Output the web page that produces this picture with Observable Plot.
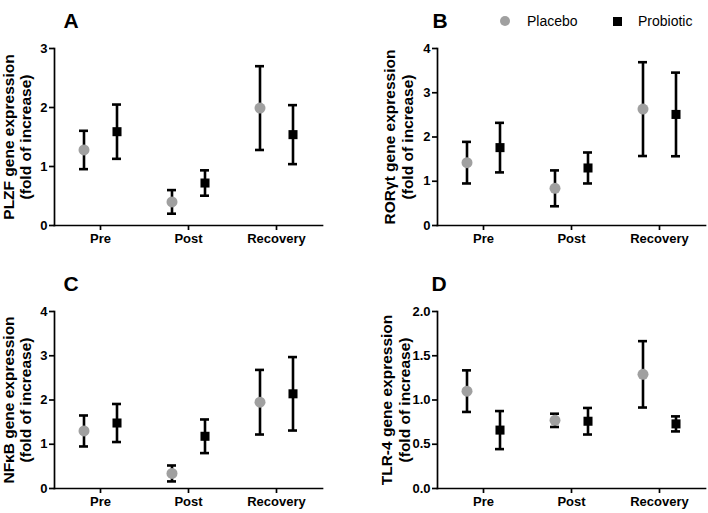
<!DOCTYPE html>
<html><head><meta charset="utf-8">
<script src="https://cdn.jsdelivr.net/npm/d3@7"></script>
<script src="https://cdn.jsdelivr.net/npm/@observablehq/plot@0.6"></script>
<style>
body{margin:0;background:#fff;}
#wrap{position:relative;width:708px;height:513px;font-family:"Liberation Sans",Arial,sans-serif;overflow:hidden;}
.panel{position:absolute;}
.leg{position:absolute;font-size:14px;color:#000;line-height:14px;}
</style></head><body><div id="wrap"></div>
<script>
// categories
const times = ["Pre", "Post", "Recovery"];
const groups = ["Placebo", "Probiotic"];
const panelLetters = ["A", "B", "C", "D"];
const yTitles = [
  "PLZF gene expression\n(fold of increase)",
  "RORγt gene expression\n(fold of increase)",
  "NFκB gene expression\n(fold of increase)",
  "TLR-4 gene expression\n(fold of increase)"
];
const yMax = [3, 4, 4, 2];
const yTicks = [[0, 1, 2, 3], [0, 1, 2, 3, 4], [0, 1, 2, 3, 4], [0, 0.5, 1, 1.5, 2]];

// A: PLZF
const plzfPlaceboMean = [1.28, 0.40, 1.99];
const plzfPlaceboErr = [0.325, 0.20, 0.71];
const plzfProbioticMean = [1.59, 0.72, 1.54];
const plzfProbioticErr = [0.46, 0.215, 0.50];
// B: RORyt
const rorPlaceboMean = [1.42, 0.84, 2.63];
const rorPlaceboErr = [0.47, 0.405, 1.06];
const rorProbioticMean = [1.76, 1.30, 2.51];
const rorProbioticErr = [0.56, 0.35, 0.945];
// C: NFkB
const nfkbPlaceboMean = [1.30, 0.34, 1.95];
const nfkbPlaceboErr = [0.35, 0.18, 0.73];
const nfkbProbioticMean = [1.48, 1.18, 2.14];
const nfkbProbioticErr = [0.43, 0.38, 0.83];
// D: TLR-4
const tlrPlaceboMean = [1.10, 0.77, 1.29];
const tlrPlaceboErr = [0.235, 0.075, 0.375];
const tlrProbioticMean = [0.66, 0.76, 0.73];
const tlrProbioticErr = [0.215, 0.15, 0.085];

const series = [
  [plzfPlaceboMean, plzfPlaceboErr, plzfProbioticMean, plzfProbioticErr],
  [rorPlaceboMean, rorPlaceboErr, rorProbioticMean, rorProbioticErr],
  [nfkbPlaceboMean, nfkbPlaceboErr, nfkbProbioticMean, nfkbProbioticErr],
  [tlrPlaceboMean, tlrPlaceboErr, tlrProbioticMean, tlrProbioticErr]
];

const layouts = [
  {left: 0, top: 0, width: 354, height: 256, mt: 48, mb: 31, mr: 32, ldx: 9, tdx: -37.5},
  {left: 383, top: 0, width: 325, height: 256, mt: 48, mb: 31, mr: 3, ldx: -5, tdx: -39},
  {left: 0, top: 256, width: 354, height: 257, mt: 55, mb: 25, mr: 32, ldx: 9, tdx: -37.5},
  {left: 383, top: 256, width: 325, height: 257, mt: 55, mb: 25, mr: 3, ldx: -6, tdx: -42}
];

const rows = (m, e) => times.map((t, j) => ({time: t, mean: m[j], low: m[j] - e[j], high: m[j] + e[j]}));

const wrap = document.getElementById("wrap");
const LW = 2.6, AW = 1.7, OFF = 16.5, CAP = 37.5;

series.forEach(([pm, pe, qm, qe], i) => {
  const L = layouts[i];
  const plac = rows(pm, pe), prob = rows(qm, qe);
  const chart = Plot.plot({
    width: L.width, height: L.height,
    marginLeft: 54, marginRight: L.mr, marginTop: L.mt, marginBottom: L.mb,
    style: {fontFamily: '"Liberation Sans", Arial, sans-serif', fontSize: "13px", fontWeight: "bold", color: "black", background: "white", overflow: "visible"},
    x: {type: "band", domain: times, padding: 0.045, label: null},
    y: {domain: [0, yMax[i]], label: null},
    marks: [
      Plot.axisY({ticks: yTicks[i], tickSize: 5, tickPadding: 2, strokeWidth: AW, tickFormat: i === 3 ? d3.format(".1f") : d3.format("d"), label: null}),
      Plot.axisX({tickSize: 5, tickPadding: 3, strokeWidth: AW, label: null}),
      Plot.frame({anchor: "left", strokeWidth: AW}),
      Plot.frame({anchor: "bottom", strokeWidth: AW}),
      Plot.text([yTitles[i]], {frameAnchor: "left", rotate: -90, textAnchor: "middle", lineAnchor: "middle", dx: L.tdx, fontSize: 15.5, lineHeight: 1.13, text: d => d}),
      Plot.text([panelLetters[i]], {frameAnchor: "top-left", dx: L.ldx, dy: -35, fontSize: 21, textAnchor: "start", text: d => d}),
      Plot.ruleX(plac, {x: "time", y1: "low", y2: "high", dx: -OFF, strokeWidth: LW}),
      Plot.tickY(plac, {x: "time", y: "low", dx: -OFF, insetLeft: CAP, insetRight: CAP, strokeWidth: LW}),
      Plot.tickY(plac, {x: "time", y: "high", dx: -OFF, insetLeft: CAP, insetRight: CAP, strokeWidth: LW}),
      Plot.ruleX(prob, {x: "time", y1: "low", y2: "high", dx: OFF, strokeWidth: LW}),
      Plot.tickY(prob, {x: "time", y: "low", dx: OFF, insetLeft: CAP, insetRight: CAP, strokeWidth: LW}),
      Plot.tickY(prob, {x: "time", y: "high", dx: OFF, insetLeft: CAP, insetRight: CAP, strokeWidth: LW}),
      Plot.dot(plac, {x: "time", y: "mean", dx: -OFF, r: 5.5, fill: "#a0a0a0", stroke: "none"}),
      Plot.dot(prob, {x: "time", y: "mean", dx: OFF, r: 5.1, symbol: "square", fill: "black", stroke: "none"})
    ]
  });
  const div = document.createElement("div");
  div.className = "panel";
  div.style.left = L.left + "px";
  div.style.top = L.top + "px";
  div.appendChild(chart);
  wrap.appendChild(div);
});

// legend
const legend = [
  {label: groups[0], shape: "circle", color: "#a0a0a0", mx: 505, tx: 527},
  {label: groups[1], shape: "square", color: "#000", mx: 617, tx: 638}
];
legend.forEach(l => {
  const m = document.createElement("div");
  const s = l.shape === "circle" ? 10 : 9;
  m.className = "leg";
  m.style.cssText = `left:${l.mx - s / 2}px;top:${21 - s / 2}px;width:${s}px;height:${s}px;background:${l.color};border-radius:${l.shape === "circle" ? "50%" : "0"};`;
  wrap.appendChild(m);
  const t = document.createElement("div");
  t.className = "leg";
  t.style.left = l.tx + "px";
  t.style.top = "14px";
  t.textContent = l.label;
  wrap.appendChild(t);
});
</script></body></html>
